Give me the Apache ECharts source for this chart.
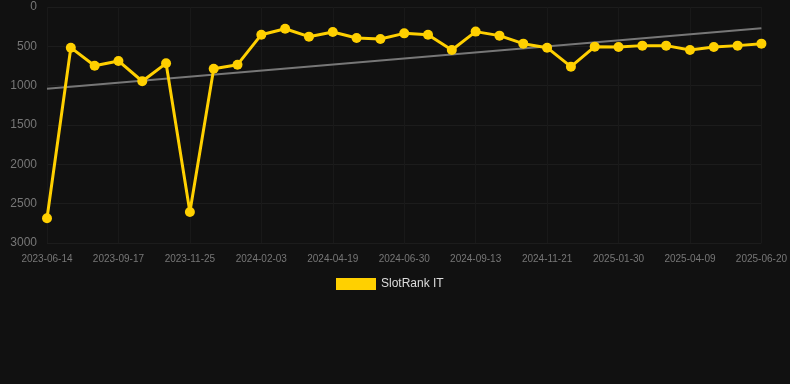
<!DOCTYPE html>
<html>
<head>
<meta charset="utf-8">
<script src="https://cdn.jsdelivr.net/npm/echarts@6/dist/echarts.min.js"></script>
<style>
  html, body { margin: 0; padding: 0; background: #111111; }
  #chart { width: 790px; height: 384px; }
</style>
</head>
<body>
<div id="chart"></div>
<script>
const dates = [
  '2023-06-14', '2023-07-13', '2023-08-15', '2023-09-17', '2023-10-10', '2023-11-02',
  '2023-11-25', '2023-12-19', '2024-01-11', '2024-02-03', '2024-02-28', '2024-03-25',
  '2024-04-19', '2024-05-13', '2024-06-06', '2024-06-30', '2024-07-25', '2024-08-19',
  '2024-09-13', '2024-10-06', '2024-10-29', '2024-11-21', '2024-12-15', '2025-01-07',
  '2025-01-30', '2025-02-22', '2025-03-17', '2025-04-09', '2025-05-04', '2025-05-28',
  '2025-06-20'
];
const rankValues = [
  2685, 517, 746, 686, 944, 716, 2605, 784, 733, 352, 276, 377, 318, 394, 407, 335,
  352, 546, 313, 364, 466, 517, 758, 504, 508, 491, 491, 546, 508, 491, 466
];
const trendStart = 1040;
const trendEnd = 270;
const yTicks = [0, 500, 1000, 1500, 2000, 2500, 3000];

const trendValues = dates.map((d, i) =>
  i === 0 ? trendStart : i === dates.length - 1 ? trendEnd : null
);

const chart = echarts.init(document.getElementById('chart'));

chart.setOption({
  backgroundColor: '#111111',
  animation: false,
  grid: { left: 47, right: 28, top: 7, bottom: 141 },
  legend: {
    data: ['SlotRank IT'],
    top: 273,
    left: 331,
    itemWidth: 40,
    itemHeight: 12,
    itemGap: 6,
    icon: 'rect',
    textStyle: { color: '#dddddd', fontSize: 12, fontFamily: 'Liberation Sans, Arial' },
  },
  xAxis: {
    type: 'category',
    data: dates,
    boundaryGap: false,
    axisLine: { show: false },
    axisTick: { show: false },
    axisLabel: {
      interval: 2,
      color: '#777777',
      fontSize: 10,
      margin: 11,
      fontFamily: 'Liberation Sans, Arial',
    },
    splitLine: { show: true, interval: 2, lineStyle: { color: '#191919' } },
  },
  yAxis: {
    type: 'value',
    inverse: true,
    min: yTicks[0],
    max: yTicks[yTicks.length - 1],
    interval: 500,
    axisLine: { show: false },
    axisTick: { show: false },
    axisLabel: {
      color: '#777777',
      fontSize: 12,
      margin: 10,
      fontFamily: 'Liberation Sans, Arial',
      formatter: (v) => String(v),
    },
    splitLine: { lineStyle: { color: '#1c1c1c' } },
  },
  series: [
    {
      name: 'Trend',
      type: 'line',
      data: trendValues,
      connectNulls: true,
      showSymbol: false,
      symbol: 'none',
      lineStyle: { color: '#777777', width: 2 },
      z: 1,
    },
    {
      name: 'SlotRank IT',
      type: 'line',
      data: rankValues,
      symbol: 'circle',
      symbolSize: 10,
      itemStyle: { color: '#ffd000' },
      lineStyle: { color: '#ffd000', width: 3 },
      z: 2,
    },
  ],
});
</script>
</body>
</html>
